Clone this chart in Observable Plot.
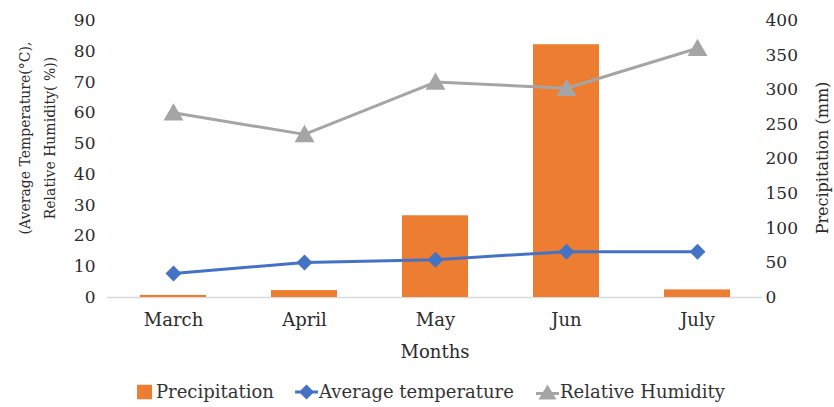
<!DOCTYPE html>
<html>
<head>
<meta charset="utf-8">
<script src="https://cdn.jsdelivr.net/npm/d3@7"></script>
<script src="https://cdn.jsdelivr.net/npm/@observablehq/plot@0.6"></script>
<style>
  body { margin: 0; background: #fff; }
  #chart { width: 834px; position: relative; }
  .legend { position: relative; width: 834px; height: 44px; font-family: "DejaVu Serif"; font-size: 18px; color: #333; }
  .legend > * { position: absolute; top: 50%; transform: translateY(-50%); }
  .legend span { white-space: nowrap; line-height: 1; }
</style>
</head>
<body>
<div id="chart"></div>
<script>
// ---- data ----
const months = ["March", "April", "May", "Jun", "July"];
const precipitation = [3, 10, 118, 365, 11];          // mm (right axis)
const avgTemperature = [7.8, 11.4, 12.3, 14.9, 14.9];  // °C (left axis)
const relativeHumidity = [60, 53, 70, 68, 81];        // % (left axis)
const leftTicks = [0, 10, 20, 30, 40, 50, 60, 70, 80, 90];
const rightTicks = [0, 50, 100, 150, 200, 250, 300, 350, 400];

const leftMax = 90, rightMax = 400;
const toLeft = v => v * leftMax / rightMax;
const rows = months.map((m, i) => ({
  month: m, precip: precipitation[i], temp: avgTemperature[i], rh: relativeHumidity[i]
}));

const textColor = "#2b2b2b";
const chart = Plot.plot({
  width: 834,
  height: 370,
  marginLeft: 107,
  marginRight: 72,
  marginTop: 20,
  marginBottom: 73,
  style: { fontFamily: "DejaVu Serif", fontSize: "17px", color: textColor, background: "white", overflow: "visible" },
  x: { domain: months, paddingInner: 0.5, paddingOuter: 0.25, axis: null },
  y: { domain: [0, leftMax], axis: null },
  marks: [
    Plot.ruleY([0], { stroke: "#d9d9d9", strokeWidth: 1.3 }),
    Plot.barY(rows, { x: "month", y: d => toLeft(d.precip), fill: "#ED7D31" }),
    Plot.line(rows, { x: "month", y: "temp", stroke: "#4472C4", strokeWidth: 3 }),
    Plot.dot(rows, { x: "month", y: "temp", symbol: "diamond2", r: 7.2, fill: "#4472C4" }),
    Plot.line(rows, { x: "month", y: "rh", stroke: "#A5A5A5", strokeWidth: 3 }),
    Plot.dot(rows, { x: "month", y: "rh", symbol: "triangle", r: 7.4, fill: "#A5A5A5", dy: 2 }),
    Plot.axisX({ tickSize: 0, tickPadding: 16, fontSize: 18, label: null }),
    Plot.axisY(leftTicks, { anchor: "left", tickSize: 0, tickPadding: 12, label: null }),
    Plot.axisY(rightTicks.map(toLeft), {
      anchor: "right", tickSize: 0, tickPadding: 3, label: null,
      tickFormat: d => String(Math.round(d * rightMax / leftMax))
    }),
    Plot.text(["Months"], { frameAnchor: "bottom", lineAnchor: "middle", textAnchor: "middle", dy: 55, fontSize: 18, fill: textColor }),
    Plot.text(["(Average Temperature(°C),"], { frameAnchor: "left", textAnchor: "middle", lineAnchor: "middle", rotate: -90, dx: -82, dy: -21, fontSize: 14, fill: textColor }),
    Plot.text(["Relative Humidity( %))"], { frameAnchor: "left", textAnchor: "middle", lineAnchor: "middle", rotate: -90, dx: -57, dy: -21, fontSize: 14, fill: textColor }),
    Plot.text(["Precipitation (mm)"], { frameAnchor: "right", textAnchor: "middle", lineAnchor: "middle", rotate: -90, dx: 60, dy: -1, fontSize: 16, fill: textColor })
  ]
});
document.getElementById("chart").appendChild(chart);

// ---- legend below the SVG ----
const legend = document.createElement("div");
legend.className = "legend";
legend.innerHTML = `
  <svg style="left:137px" width="15" height="15"><rect width="15" height="15" fill="#ED7D31"/></svg>
  <span style="left:156px">Precipitation</span>
  <svg style="left:295px" width="23" height="16"><line x1="0" x2="23" y1="8" y2="8" stroke="#4472C4" stroke-width="3"/><polygon points="11.5,0.5 19,8 11.5,15.5 4,8" fill="#4472C4"/></svg>
  <span style="left:319px">Average temperature</span>
  <svg style="left:536px" width="23" height="17"><line x1="0" x2="23" y1="10" y2="10" stroke="#A5A5A5" stroke-width="3"/><polygon points="11.5,1 20.5,16 2.5,16" fill="#A5A5A5"/></svg>
  <span style="left:560px">Relative Humidity</span>`;
document.getElementById("chart").appendChild(legend);
</script>
</body>
</html>
